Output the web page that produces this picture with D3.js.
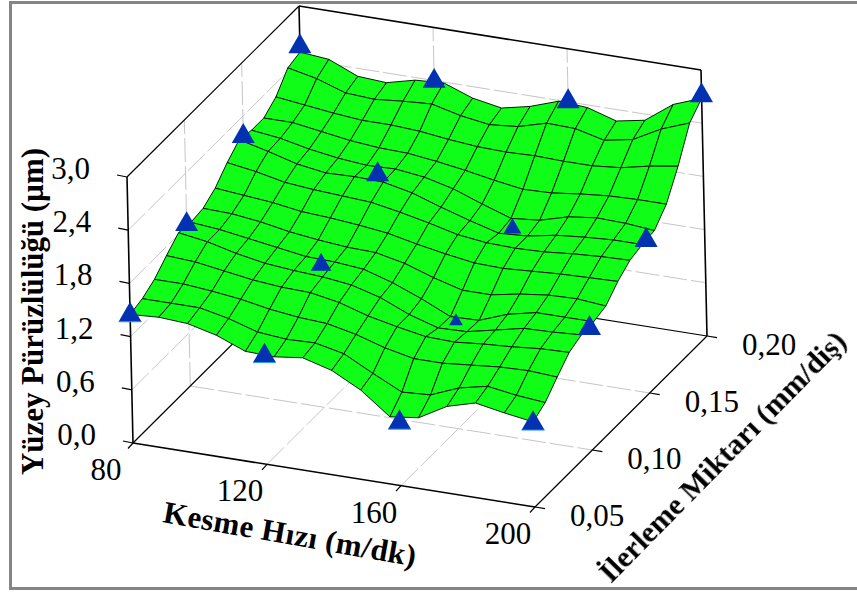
<!DOCTYPE html>
<html><head><meta charset="utf-8">
<style>html,body{margin:0;padding:0;background:#fff}svg{display:block;filter:blur(.5px)}text{font-family:"Liberation Serif","Times New Roman",serif;fill:#000}</style>
<script src="https://cdn.jsdelivr.net/npm/d3@7/dist/d3.min.js"></script>
</head><body><svg id="c" width="857" height="595"></svg>
<script>
const speedTicks=[80,120,160,200];
const feedTicks=[0.05,0.10,0.15,0.20];
const heightTicks=[0,0.6,1.2,1.8,2.4,3.0];
const xTitle="Kesme Hızı (m/dk)";
const yTitle="İlerleme Miktarı (mm/diş)";
const zTitle="Yüzey Pürüzlülüğü (µm)";
// fitted surface, rows run from feed 0.05 (front) to 0.20 (back), columns from speed 80 to 200
const surface=[
[1.45,1.47,1.45,1.37,1.24,1.23,1.27,1.18,1.01,0.76,0.80,0.98,1.07,1.01,0.96],
[1.49,1.49,1.49,1.42,1.32,1.29,1.30,1.23,1.06,0.90,0.92,1.05,1.12,1.07,1.04],
[1.57,1.57,1.54,1.50,1.44,1.40,1.38,1.31,1.21,1.14,1.14,1.17,1.20,1.21,1.19],
[1.70,1.68,1.63,1.58,1.55,1.54,1.48,1.38,1.31,1.25,1.24,1.27,1.29,1.32,1.33],
[1.82,1.77,1.69,1.63,1.60,1.58,1.54,1.45,1.31,1.21,1.22,1.29,1.36,1.37,1.39],
[1.80,1.77,1.72,1.67,1.62,1.61,1.58,1.48,1.35,1.20,1.21,1.33,1.40,1.40,1.40],
[1.82,1.81,1.77,1.71,1.67,1.64,1.63,1.56,1.45,1.36,1.36,1.42,1.46,1.47,1.44],
[1.91,1.88,1.85,1.80,1.78,1.75,1.71,1.64,1.58,1.53,1.52,1.54,1.56,1.57,1.58],
[2.06,2.01,1.94,1.91,1.89,1.87,1.81,1.74,1.66,1.62,1.61,1.62,1.65,1.67,1.68],
[2.18,2.10,2.01,1.96,1.97,1.96,1.89,1.78,1.68,1.59,1.61,1.67,1.70,1.72,1.72],
[2.15,2.11,2.04,1.99,1.96,1.97,1.93,1.85,1.73,1.62,1.65,1.74,1.78,1.77,1.74],
[2.15,2.15,2.10,2.05,2.02,2.01,1.97,1.92,1.86,1.81,1.82,1.86,1.89,1.90,1.90],
[2.25,2.21,2.17,2.14,2.14,2.12,2.08,2.05,2.04,2.05,2.04,2.04,2.07,2.14,2.19],
[2.44,2.37,2.26,2.24,2.27,2.29,2.21,2.16,2.19,2.28,2.27,2.19,2.25,2.42,2.54],
[2.48,2.45,2.31,2.29,2.37,2.39,2.27,2.21,2.28,2.39,2.37,2.27,2.33,2.56,2.68]];
// measured points, rows by feed, columns by speed
const measured=[
[1.48,1.26,0.75,0.98],
[1.86,1.63,1.19,1.41],
[2.21,2.02,1.62,1.76],
[2.58,2.43,2.44,2.75]];
// part of each marker that rises above the surface
const markerShown=[
[1,1,1,1],
[1,0.9,0.6,1],
[1,1,0.78,1],
[1,1,1,1]];

const svg=d3.select("#c");
const u=d3.scaleLinear().domain([80,200]).range([0,1]);
const v=d3.scaleLinear().domain([0.05,0.20]).range([0,1]);
const w=d3.scaleLinear().domain([0,3]).range([0,1]);
const px=(s,f,z)=>133+402*u(s)+172*v(f)-6*w(z);
const py=(s,f,z)=>443+64*u(s)-171*v(f)-266*w(z);
const P=(s,f,z)=>[px(s,f,z),py(s,f,z)];
const nodeSpeed=i=>u.invert(i/14), nodeFeed=j=>v.invert(j/14);
const line=d3.line();
const [s0,s1]=[speedTicks[0],speedTicks[3]],[f0,f1]=[feedTicks[0],feedTicks[3]],[z0,z1]=[0,3];

svg.append("rect").attr("x",10.5).attr("y",2.5).attr("width",900).attr("height",586)
  .attr("fill","#fff").attr("stroke","#858585").attr("stroke-width",3);

// grid on walls and floor
const grid=svg.append("g").attr("fill","none").attr("stroke","#c6c6c6").attr("stroke-width",1).attr("stroke-dasharray","24 4");
const seg=(g,a,b)=>g.append("path").attr("d",line([a,b]));
heightTicks.slice(1,-1).forEach(z=>{seg(grid,P(s0,f0,z),P(s0,f1,z));seg(grid,P(s0,f1,z),P(s1,f1,z));});
feedTicks.slice(1,-1).forEach(f=>{seg(grid,P(s0,f,z0),P(s0,f,z1));seg(grid,P(s0,f,z0),P(s1,f,z0));});
speedTicks.slice(1,-1).forEach(s=>{seg(grid,P(s,f1,z0),P(s,f1,z1));seg(grid,P(s,f0,z0),P(s,f1,z0));});

// frame of the cube
const frame=svg.append("g").attr("fill","none").attr("stroke","#000");
[[P(s0,f0,z0),P(s0,f0,z1),1.6],[P(s0,f0,z1),P(s0,f1,z1),1.2],[P(s0,f1,z1),P(s1,f1,z1),1.6],
 [P(s1,f1,z1),P(s1,f1,z0),1.6],[P(s0,f1,z1),P(s0,f1,z0),1.6],[P(s0,f0,z0),P(s1,f0,z0),1.6],
 [P(s1,f0,z0),P(s1,f1,z0),1.2],[P(s0,f0,z0),P(s0,f1,z0),1.2],[P(s0,f1,z0),P(s1,f1,z0),1.2]]
 .forEach(([a,b,sw])=>seg(frame,a,b).attr("stroke-width",sw));

// ticks
heightTicks.forEach(z=>{const p=P(s0,f0,z);seg(frame,p,[p[0]-10,p[1]-2]).attr("stroke-width",1.2);});
speedTicks.forEach(s=>{const p=P(s,f0,z0);seg(frame,p,[p[0]-5,p[1]+5.5]).attr("stroke-width",1.2);});
feedTicks.forEach(f=>{const p=P(s1,f,z0);seg(frame,p,[p[0]+10,p[1]+1.6]).attr("stroke-width",1.2);});

// surface, painted from back to front
const cells=[];
for(let j=13;j>=0;j--)for(let i=0;i<14;i++)cells.push({i,j});
svg.append("g").selectAll("path").data(cells).join("path")
  .attr("d",({i,j})=>line([[i,j],[i+1,j],[i+1,j+1],[i,j+1]].map(([a,b])=>P(nodeSpeed(a),nodeFeed(b),surface[b][a])))+"Z")
  .attr("fill","#10fd18").attr("stroke","#031a03").attr("stroke-width",1).attr("stroke-linejoin","round");

// markers
const H=20,W=23;
const tri=d3.symbol().type(d3.symbolTriangle);
const pts=[];
measured.forEach((row,j)=>row.forEach((z,i)=>pts.push({s:speedTicks[i],f:feedTicks[j],z,k:markerShown[j][i]})));
const mk=svg.append("g").selectAll("g").data(pts).join("g")
  .attr("transform",d=>{const [x,y]=P(d.s,d.f,d.z);return `translate(${x},${y-H/2+(2/3)*H*d.k})`;});
mk.append("path").attr("d",d=>tri.size(Math.sqrt(3)/4*(W*d.k)*(W*d.k))()).attr("fill","#0232b2");
mk.filter(d=>d.f===f0).append("path").attr("d",d=>line([[-W/2,H/3],[W/2,H/3]])).attr("stroke","#2f9bf0").attr("stroke-width",1);

// tick labels
const lab=(t,x,y,a)=>svg.append("text").attr("x",x).attr("y",y).attr("text-anchor",a).attr("font-size",31).text(t);
const comma=d3.format(".1f"),comma2=d3.format(".2f");
heightTicks.forEach(z=>{const p=P(s0,f0,z);lab(comma(z).replace(".",","),p[0]-37,p[1]+2,"end");});
speedTicks.forEach(s=>{const p=P(s,f0,z0);lab(s,p[0]-27,p[1]+37,"middle");});
feedTicks.forEach(f=>{const p=P(s1,f,z0);lab(comma2(f).replace(".",","),p[0]+35,p[1]+19,"start");});

// axis titles
const title=(t,x,y,rot,fs,len)=>svg.append("text").attr("transform",`translate(${x},${y}) rotate(${rot})`)
  .attr("text-anchor","start").attr("font-size",fs).attr("font-weight","bold")
  .attr("textLength",len).attr("lengthAdjust","spacing").text(t);
title(zTitle,43,475,-90,31,327);
title(xTitle,162,522,10,31,256);
title(yTitle,611,584,-45.5,30,338);
</script></body></html>
